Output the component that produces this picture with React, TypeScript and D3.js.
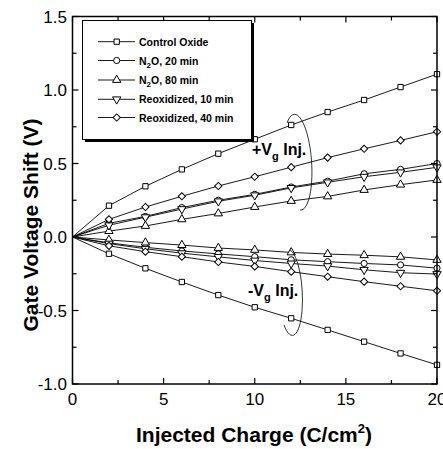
import React from 'react';
import * as d3 from 'd3';

const charge = [0, 2, 4, 6, 8, 10, 12, 14, 16, 18, 20];
const seriesNames = ['Control Oxide', 'N2O, 20 min', 'N2O, 80 min', 'Reoxidized, 10 min', 'Reoxidized, 40 min'];
const controlPos = [0, 0.213, 0.345, 0.46, 0.567, 0.665, 0.762, 0.85, 0.932, 1.02, 1.108];
const n2o20Pos = [0, 0.093, 0.14, 0.2, 0.25, 0.29, 0.34, 0.38, 0.43, 0.46, 0.5];
const n2o80Pos = [0, 0.04, 0.075, 0.12, 0.16, 0.204, 0.245, 0.276, 0.32, 0.356, 0.388];
const reox10Pos = [0, 0.08, 0.135, 0.19, 0.243, 0.284, 0.334, 0.372, 0.41, 0.44, 0.474];
const reox40Pos = [0, 0.12, 0.204, 0.277, 0.347, 0.41, 0.475, 0.54, 0.6, 0.657, 0.716];
const controlNeg = [0, -0.114, -0.213, -0.306, -0.395, -0.478, -0.553, -0.632, -0.712, -0.792, -0.87];
const n2o20Neg = [0, -0.04, -0.07, -0.095, -0.115, -0.134, -0.155, -0.168, -0.18, -0.19, -0.212];
const n2o80Neg = [0, -0.02, -0.038, -0.055, -0.075, -0.088, -0.105, -0.116, -0.124, -0.135, -0.156];
const reox10Neg = [0, -0.045, -0.08, -0.11, -0.135, -0.16, -0.18, -0.198, -0.223, -0.243, -0.252];
const reox40Neg = [0, -0.06, -0.1, -0.134, -0.17, -0.2, -0.236, -0.27, -0.304, -0.335, -0.366];
const xTicks = [0, 5, 10, 15, 20];
const yTicks = [-1.0, -0.5, 0.0, 0.5, 1.0, 1.5];

const markerKinds = ['square', 'circle', 'triangle', 'down', 'diamond'];
const seriesPos = [controlPos, n2o20Pos, n2o80Pos, reox10Pos, reox40Pos];
const seriesNeg = [controlNeg, n2o20Neg, n2o80Neg, reox10Neg, reox40Neg];

const FONT = "'Liberation Sans', Arial, Helvetica, sans-serif";

const L = 72.5, R = 437, T = 16.5, B = 384;
const x = d3.scaleLinear().domain([0, 20]).range([L, R]);
const y = d3.scaleLinear().domain([-1, 1.5]).range([B, T]);

function markerPath(kind: string): { d: string; rot: number } {
  switch (kind) {
    case 'square': return { d: d3.symbol(d3.symbolSquare, 28)()!, rot: 0 };
    case 'circle': return { d: d3.symbol(d3.symbolCircle, 30)()!, rot: 0 };
    case 'triangle': return { d: d3.symbol(d3.symbolTriangle, 30)()!, rot: 0 };
    case 'down': return { d: d3.symbol(d3.symbolTriangle, 30)()!, rot: 180 };
    default: return { d: d3.symbol(d3.symbolSquare, 26)()!, rot: 45 };
  }
}

function Marker({ kind, cx, cy }: { kind: string; cx: number; cy: number }) {
  const m = markerPath(kind);
  return (
    <path d={m.d} transform={`translate(${cx},${cy}) rotate(${m.rot})`} fill="#fff" stroke="#000" strokeWidth={1} />
  );
}

function LabelN2O({ name }: { name: string }) {
  if (name.startsWith('N2O')) {
    return (
      <>
        N<tspan fontSize="8" dy="3">2</tspan><tspan dy="-3">O{name.slice(3)}</tspan>
      </>
    );
  }
  return <>{name}</>;
}

export default function App() {
  const line = d3.line<number>().x((_, i) => x(charge[i])).y((v) => y(v));
  const minorX = d3.range(0, 20.01, 2.5);
  const minorY = d3.range(-1, 1.501, 0.25);
  const legendRows = [41.7, 60.5, 80, 99.3, 117.5];
  return (
    <svg width={443} height={449} style={{ position: 'absolute', left: 0, top: 0, background: '#fff' }}>
      <rect x={0} y={0} width={443} height={449} fill="#fff" />
      {[seriesPos, seriesNeg].map((group, gi) =>
        group.map((vals, si) => (
          <g key={`${gi}-${si}`}>
            <path d={line(vals)!} fill="none" stroke="#000" strokeWidth={0.9} />
            {vals.map((v, i) => i === 0 ? null : (
              <Marker key={i} kind={markerKinds[si]} cx={x(charge[i])} cy={y(v)} />
            ))}
          </g>
        ))
      )}
      <rect x={L} y={T} width={R - L} height={B - T} fill="none" stroke="#000" strokeWidth={1.5} />
      {minorX.map((t) => {
        const major = Math.abs(t % 5) < 1e-6;
        const len = major ? 6 : 4;
        return (
          <g key={`xt${t}`}>
            <line x1={x(t)} x2={x(t)} y1={B} y2={B - len} stroke="#000" strokeWidth={1.2} />
            <line x1={x(t)} x2={x(t)} y1={T} y2={T + len} stroke="#000" strokeWidth={1.2} />
          </g>
        );
      })}
      {minorY.map((t) => {
        const major = Math.abs((t * 2) - Math.round(t * 2)) < 1e-6;
        const len = major ? 6 : 4;
        return (
          <g key={`yt${t}`}>
            <line x1={L} x2={L + len} y1={y(t)} y2={y(t)} stroke="#000" strokeWidth={1.2} />
            <line x1={R} x2={R - len} y1={y(t)} y2={y(t)} stroke="#000" strokeWidth={1.2} />
          </g>
        );
      })}
      {xTicks.map((t) => (
        <text key={`xl${t}`} x={x(t)} y={405} textAnchor="middle" fontFamily={FONT} fontSize={17}>{t}</text>
      ))}
      {yTicks.map((t) => (
        <text key={`yl${t}`} x={67} y={y(t) + 6} textAnchor="end" fontFamily={FONT} fontSize={17}>{t.toFixed(1)}</text>
      ))}
      <text x={254} y={442} textAnchor="middle" fontFamily={FONT} fontSize={21} fontWeight="bold">
        Injected Charge (C/cm<tspan fontSize="13" dy="-9">2</tspan><tspan dy="9">)</tspan>
      </text>
      <text transform={`translate(38,225) rotate(-90)`} textAnchor="middle" fontFamily={FONT} fontSize={21} fontWeight="bold">
        Gate Voltage Shift (V)
      </text>
      <rect x={85} y={23} width={169} height={119} fill="#000" />
      <rect x={82.5} y={20.5} width={169} height={119} fill="#fff" stroke="#000" strokeWidth={1} />
      {seriesNames.map((name, i) => (
        <g key={name}>
          <line x1={98} x2={135} y1={legendRows[i]} y2={legendRows[i]} stroke="#000" strokeWidth={0.9} />
          <Marker kind={markerKinds[i]} cx={116.7} cy={legendRows[i]} />
          <text x={139} y={legendRows[i] + 4} fontFamily={FONT} fontSize={10.5} fontWeight="bold">
            <LabelN2O name={name} />
          </text>
        </g>
      ))}
      <path d="M 287 123 A 14 48 -4 1 1 300 210" fill="none" stroke="#000" strokeWidth={0.8} />
      <text x={252} y={155} fontFamily={FONT} fontSize={16} fontWeight="bold">
        +V<tspan fontSize="11" dy="5">g</tspan><tspan dy="-5"> Inj.</tspan>
      </text>
      <path d="M 290 250 A 12 43 -3 1 1 284 325" fill="none" stroke="#000" strokeWidth={0.8} />
      <text x={248} y={296} fontFamily={FONT} fontSize={16} fontWeight="bold">
        -V<tspan fontSize="11" dy="5">g</tspan><tspan dy="-5"> Inj.</tspan>
      </text>
    </svg>
  );
}
